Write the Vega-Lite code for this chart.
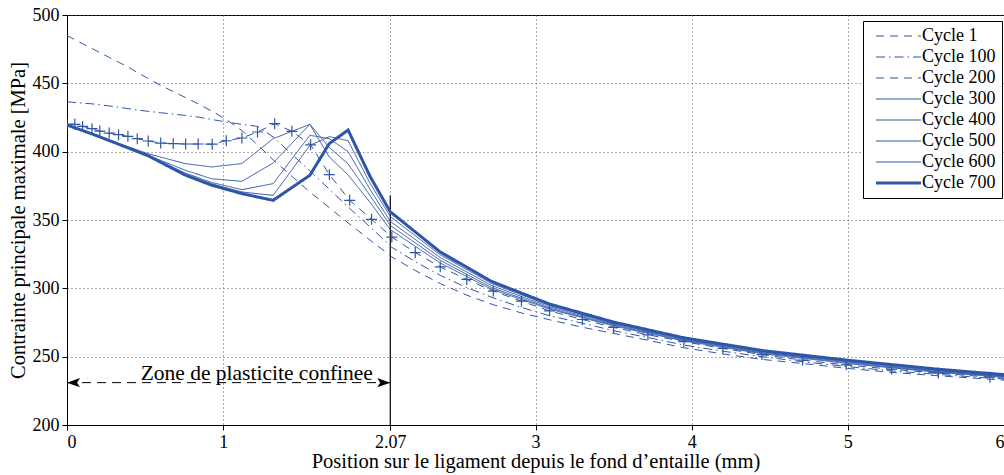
{
  "$schema": "https://vega.github.io/schema/vega-lite/v6.json",
  "width": 937,
  "height": 410,
  "autosize": {"type": "none"},
  "padding": {"left": 67, "top": 15, "right": 0, "bottom": 50},
  "background": "white",
  "config": {
    "font": "Liberation Serif, Times New Roman, serif",
    "view": {"stroke": "black", "strokeWidth": 1},
    "axis": {
      "domainColor": "black", "tickColor": "black", "labelColor": "black", "titleColor": "black",
      "labelFont": "Liberation Serif, Times New Roman, serif", "titleFont": "Liberation Serif, Times New Roman, serif",
      "labelFontSize": 18, "titleFontSize": 20.5, "titleFontWeight": "normal",
      "gridColor": "#555555", "gridDash": [1, 3], "gridOpacity": 1, "gridWidth": 1,
      "tickSize": 5, "labelPadding": 3
    },
    "legend": {
      "orient": "none", "legendX": 796, "legendY": 6,
      "strokeColor": "black", "fillColor": "white", "padding": 6,
      "labelFont": "Liberation Serif, Times New Roman, serif", "labelFontSize": 18, "labelColor": "black",
      "symbolStrokeColor": "#2E55A8",
      "rowPadding": 3, "title": null
    }
  },
  "datasets": {
    "curves": [
      {"c":"Cycle 1","x":0,"y":485},{"c":"Cycle 1","x":0.05,"y":482},{"c":"Cycle 1","x":0.10,"y":479},{"c":"Cycle 1","x":0.16,"y":475.5},{"c":"Cycle 1","x":0.21,"y":472.5},{"c":"Cycle 1","x":0.27,"y":469},{"c":"Cycle 1","x":0.33,"y":465.5},{"c":"Cycle 1","x":0.39,"y":462},{"c":"Cycle 1","x":0.45,"y":458},{"c":"Cycle 1","x":0.52,"y":453.5},{"c":"Cycle 1","x":0.60,"y":448.5},{"c":"Cycle 1","x":0.68,"y":444},{"c":"Cycle 1","x":0.76,"y":439.5},{"c":"Cycle 1","x":0.84,"y":435},{"c":"Cycle 1","x":0.93,"y":429.5},{"c":"Cycle 1","x":1.02,"y":423.5},{"c":"Cycle 1","x":1.12,"y":415.5},{"c":"Cycle 1","x":1.22,"y":405},{"c":"Cycle 1","x":1.33,"y":393},{"c":"Cycle 1","x":1.44,"y":382},{"c":"Cycle 1","x":1.56,"y":370},{"c":"Cycle 1","x":1.68,"y":359},{"c":"Cycle 1","x":1.81,"y":347},{"c":"Cycle 1","x":1.95,"y":334.5},{"c":"Cycle 1","x":2.08,"y":323},{"c":"Cycle 1","x":2.23,"y":313},{"c":"Cycle 1","x":2.39,"y":303.5},{"c":"Cycle 1","x":2.56,"y":295},{"c":"Cycle 1","x":2.73,"y":288},{"c":"Cycle 1","x":2.91,"y":282},{"c":"Cycle 1","x":3.09,"y":277},{"c":"Cycle 1","x":3.30,"y":271.5},{"c":"Cycle 1","x":3.50,"y":267},{"c":"Cycle 1","x":3.72,"y":262},{"c":"Cycle 1","x":3.95,"y":256.5},{"c":"Cycle 1","x":4.20,"y":252},{"c":"Cycle 1","x":4.45,"y":248},{"c":"Cycle 1","x":4.71,"y":245},{"c":"Cycle 1","x":4.99,"y":241.5},{"c":"Cycle 1","x":5.28,"y":238.5},{"c":"Cycle 1","x":5.58,"y":236},{"c":"Cycle 1","x":5.91,"y":233.5},{"c":"Cycle 1","x":6.25,"y":231},

      {"c":"Cycle 100","x":0,"y":436.5},{"c":"Cycle 100","x":0.05,"y":436},{"c":"Cycle 100","x":0.10,"y":435.5},{"c":"Cycle 100","x":0.16,"y":435},{"c":"Cycle 100","x":0.21,"y":434.3},{"c":"Cycle 100","x":0.27,"y":433.5},{"c":"Cycle 100","x":0.33,"y":432.5},{"c":"Cycle 100","x":0.39,"y":431.5},{"c":"Cycle 100","x":0.45,"y":430.5},{"c":"Cycle 100","x":0.52,"y":429.5},{"c":"Cycle 100","x":0.60,"y":428.5},{"c":"Cycle 100","x":0.68,"y":427.5},{"c":"Cycle 100","x":0.76,"y":426.5},{"c":"Cycle 100","x":0.84,"y":425.3},{"c":"Cycle 100","x":0.93,"y":423.5},{"c":"Cycle 100","x":1.02,"y":421.7},{"c":"Cycle 100","x":1.12,"y":420},{"c":"Cycle 100","x":1.22,"y":418.5},{"c":"Cycle 100","x":1.33,"y":410},{"c":"Cycle 100","x":1.44,"y":398},{"c":"Cycle 100","x":1.56,"y":385.5},{"c":"Cycle 100","x":1.68,"y":372.5},{"c":"Cycle 100","x":1.81,"y":358.5},{"c":"Cycle 100","x":1.95,"y":344},{"c":"Cycle 100","x":2.08,"y":330},{"c":"Cycle 100","x":2.23,"y":319.5},{"c":"Cycle 100","x":2.39,"y":309.5},{"c":"Cycle 100","x":2.56,"y":300.5},{"c":"Cycle 100","x":2.73,"y":293},{"c":"Cycle 100","x":2.91,"y":286},{"c":"Cycle 100","x":3.09,"y":280},{"c":"Cycle 100","x":3.30,"y":274.5},{"c":"Cycle 100","x":3.50,"y":269},{"c":"Cycle 100","x":3.72,"y":264},{"c":"Cycle 100","x":3.95,"y":258.5},{"c":"Cycle 100","x":4.20,"y":254},{"c":"Cycle 100","x":4.45,"y":250},{"c":"Cycle 100","x":4.71,"y":246.3},{"c":"Cycle 100","x":4.99,"y":242.8},{"c":"Cycle 100","x":5.28,"y":239.6},{"c":"Cycle 100","x":5.58,"y":237},{"c":"Cycle 100","x":5.91,"y":234.3},{"c":"Cycle 100","x":6.25,"y":231.8},

      {"c":"Cycle 200","x":0,"y":420},{"c":"Cycle 200","x":0.05,"y":420},{"c":"Cycle 200","x":0.10,"y":418.5},{"c":"Cycle 200","x":0.16,"y":416.8},{"c":"Cycle 200","x":0.21,"y":415.1},{"c":"Cycle 200","x":0.27,"y":413.6},{"c":"Cycle 200","x":0.33,"y":412.4},{"c":"Cycle 200","x":0.39,"y":411.2},{"c":"Cycle 200","x":0.45,"y":409.5},{"c":"Cycle 200","x":0.52,"y":407.8},{"c":"Cycle 200","x":0.60,"y":406.3},{"c":"Cycle 200","x":0.68,"y":405.9},{"c":"Cycle 200","x":0.76,"y":405.6},{"c":"Cycle 200","x":0.84,"y":405.6},{"c":"Cycle 200","x":0.93,"y":405.5},{"c":"Cycle 200","x":1.02,"y":408},{"c":"Cycle 200","x":1.12,"y":410},{"c":"Cycle 200","x":1.22,"y":414.4},{"c":"Cycle 200","x":1.33,"y":420.5},{"c":"Cycle 200","x":1.44,"y":414.9},{"c":"Cycle 200","x":1.56,"y":405},{"c":"Cycle 200","x":1.68,"y":383.2},{"c":"Cycle 200","x":1.81,"y":364.4},{"c":"Cycle 200","x":1.95,"y":350.5},{"c":"Cycle 200","x":2.08,"y":337.5},{"c":"Cycle 200","x":2.23,"y":326.2},{"c":"Cycle 200","x":2.39,"y":315.7},{"c":"Cycle 200","x":2.56,"y":306.5},{"c":"Cycle 200","x":2.73,"y":298},{"c":"Cycle 200","x":2.91,"y":290.6},{"c":"Cycle 200","x":3.09,"y":283.5},{"c":"Cycle 200","x":3.30,"y":277.2},{"c":"Cycle 200","x":3.50,"y":271.4},{"c":"Cycle 200","x":3.72,"y":266},{"c":"Cycle 200","x":3.95,"y":261},{"c":"Cycle 200","x":4.20,"y":256},{"c":"Cycle 200","x":4.45,"y":251.5},{"c":"Cycle 200","x":4.71,"y":247.5},{"c":"Cycle 200","x":4.99,"y":244},{"c":"Cycle 200","x":5.28,"y":240.8},{"c":"Cycle 200","x":5.58,"y":238},{"c":"Cycle 200","x":5.91,"y":235},{"c":"Cycle 200","x":6.25,"y":232.5},

      {"c":"Cycle 300","x":0,"y":419.5},{"c":"Cycle 300","x":0.16,"y":413.2},{"c":"Cycle 300","x":0.33,"y":406},{"c":"Cycle 300","x":0.52,"y":398.5},{"c":"Cycle 300","x":0.755,"y":391.3},{"c":"Cycle 300","x":0.925,"y":388.8},{"c":"Cycle 300","x":1.12,"y":391.3},{"c":"Cycle 300","x":1.32,"y":409.5},{"c":"Cycle 300","x":1.555,"y":420},{"c":"Cycle 300","x":1.68,"y":396},{"c":"Cycle 300","x":1.80,"y":383},{"c":"Cycle 300","x":1.94,"y":363},{"c":"Cycle 300","x":2.07,"y":343},{"c":"Cycle 300","x":2.39,"y":318.5},{"c":"Cycle 300","x":2.72,"y":299.3},{"c":"Cycle 300","x":3.09,"y":284.8},{"c":"Cycle 300","x":3.50,"y":272.5},{"c":"Cycle 300","x":3.95,"y":261.5},{"c":"Cycle 300","x":4.45,"y":252.2},{"c":"Cycle 300","x":4.99,"y":245.1},{"c":"Cycle 300","x":5.58,"y":238.5},{"c":"Cycle 300","x":6.25,"y":232.9},

      {"c":"Cycle 400","x":0,"y":419.5},{"c":"Cycle 400","x":0.16,"y":413},{"c":"Cycle 400","x":0.33,"y":405.5},{"c":"Cycle 400","x":0.52,"y":397.3},{"c":"Cycle 400","x":0.755,"y":386.5},{"c":"Cycle 400","x":0.925,"y":380.2},{"c":"Cycle 400","x":1.12,"y":378.3},{"c":"Cycle 400","x":1.32,"y":391.7},{"c":"Cycle 400","x":1.555,"y":420},{"c":"Cycle 400","x":1.68,"y":403},{"c":"Cycle 400","x":1.80,"y":391},{"c":"Cycle 400","x":1.94,"y":368},{"c":"Cycle 400","x":2.07,"y":346},{"c":"Cycle 400","x":2.39,"y":320.5},{"c":"Cycle 400","x":2.72,"y":300.5},{"c":"Cycle 400","x":3.09,"y":285.5},{"c":"Cycle 400","x":3.50,"y":273.1},{"c":"Cycle 400","x":3.95,"y":262},{"c":"Cycle 400","x":4.45,"y":252.8},{"c":"Cycle 400","x":4.99,"y":245.7},{"c":"Cycle 400","x":5.58,"y":239},{"c":"Cycle 400","x":6.25,"y":233.3},

      {"c":"Cycle 500","x":0,"y":419.5},{"c":"Cycle 500","x":0.16,"y":413},{"c":"Cycle 500","x":0.33,"y":405.5},{"c":"Cycle 500","x":0.52,"y":397},{"c":"Cycle 500","x":0.755,"y":384.5},{"c":"Cycle 500","x":0.925,"y":377.5},{"c":"Cycle 500","x":1.12,"y":372.2},{"c":"Cycle 500","x":1.32,"y":376.6},{"c":"Cycle 500","x":1.555,"y":412},{"c":"Cycle 500","x":1.68,"y":409.5},{"c":"Cycle 500","x":1.80,"y":400},{"c":"Cycle 500","x":1.94,"y":372.5},{"c":"Cycle 500","x":2.07,"y":349},{"c":"Cycle 500","x":2.39,"y":322.5},{"c":"Cycle 500","x":2.72,"y":302},{"c":"Cycle 500","x":3.09,"y":286.5},{"c":"Cycle 500","x":3.50,"y":273.8},{"c":"Cycle 500","x":3.95,"y":262.6},{"c":"Cycle 500","x":4.45,"y":253.4},{"c":"Cycle 500","x":4.99,"y":246.3},{"c":"Cycle 500","x":5.58,"y":239.6},{"c":"Cycle 500","x":6.25,"y":233.7},

      {"c":"Cycle 600","x":0,"y":419.5},{"c":"Cycle 600","x":0.16,"y":413},{"c":"Cycle 600","x":0.33,"y":405.5},{"c":"Cycle 600","x":0.52,"y":397},{"c":"Cycle 600","x":0.755,"y":383.5},{"c":"Cycle 600","x":0.925,"y":376.5},{"c":"Cycle 600","x":1.12,"y":370.5},{"c":"Cycle 600","x":1.32,"y":368},{"c":"Cycle 600","x":1.555,"y":404.6},{"c":"Cycle 600","x":1.68,"y":411},{"c":"Cycle 600","x":1.80,"y":408},{"c":"Cycle 600","x":1.94,"y":377},{"c":"Cycle 600","x":2.07,"y":352.5},{"c":"Cycle 600","x":2.39,"y":324.5},{"c":"Cycle 600","x":2.72,"y":303.5},{"c":"Cycle 600","x":3.09,"y":287.5},{"c":"Cycle 600","x":3.50,"y":274.5},{"c":"Cycle 600","x":3.95,"y":263.2},{"c":"Cycle 600","x":4.45,"y":254},{"c":"Cycle 600","x":4.99,"y":246.9},{"c":"Cycle 600","x":5.58,"y":240.2},{"c":"Cycle 600","x":6.25,"y":234.1},

      {"c":"Cycle 700","x":0,"y":419.5},{"c":"Cycle 700","x":0.16,"y":413},{"c":"Cycle 700","x":0.33,"y":405.5},{"c":"Cycle 700","x":0.52,"y":397},{"c":"Cycle 700","x":0.755,"y":383},{"c":"Cycle 700","x":0.925,"y":375.5},{"c":"Cycle 700","x":1.12,"y":369.3},{"c":"Cycle 700","x":1.32,"y":364.4},{"c":"Cycle 700","x":1.555,"y":382.7},{"c":"Cycle 700","x":1.68,"y":406},{"c":"Cycle 700","x":1.80,"y":415.8},{"c":"Cycle 700","x":1.94,"y":382},{"c":"Cycle 700","x":2.07,"y":356},{"c":"Cycle 700","x":2.39,"y":326.6},{"c":"Cycle 700","x":2.72,"y":305},{"c":"Cycle 700","x":3.09,"y":288.5},{"c":"Cycle 700","x":3.50,"y":275.3},{"c":"Cycle 700","x":3.95,"y":263.8},{"c":"Cycle 700","x":4.45,"y":254.5},{"c":"Cycle 700","x":4.99,"y":247.5},{"c":"Cycle 700","x":5.58,"y":240.8},{"c":"Cycle 700","x":6.25,"y":234.5}
    ],
    "vline": [{"x": 2.07, "y": 200, "y2": 368}],
    "arrow": [{"x": 0, "x2": 2.07, "y": 231}],
    "heads": [{"x": 0, "y": 231, "side": "left"}, {"x": 2.07, "y": 231, "side": "right"}],
    "label": [{"x": 1.215, "y": 233, "t": "Zone de plasticite confinee"}]
  },
  "encoding": {
    "x": {"field": "x", "type": "quantitative",
      "scale": {"domain": [0, 6], "nice": false, "zero": false},
      "axis": {"values": [0, 1, 2.07, 3, 4, 5, 6], "grid": true,
        "labelExpr": "datum.value > 2.05 && datum.value < 2.09 ? '2.07' : format(datum.value, 'd')",
        "labelFont": "Liberation Serif, Times New Roman, serif", "titleFont": "Liberation Serif, Times New Roman, serif",
        "title": "Position sur le ligament depuis le fond d’entaille (mm)", "titlePadding": 0}},
    "y": {"field": "y", "type": "quantitative",
      "scale": {"domain": [200, 500], "nice": false, "zero": false},
      "axis": {"values": [200, 250, 300, 350, 400, 450, 500], "format": "d", "grid": true,
        "labelFont": "Liberation Serif, Times New Roman, serif", "titleFont": "Liberation Serif, Times New Roman, serif",
        "title": "Contrainte principale maximale [MPa]", "titlePadding": 4}}
  },
  "layer": [
    {
      "data": {"name": "vline"},
      "mark": {"type": "rule", "color": "black", "strokeWidth": 1.2},
      "encoding": {"y2": {"field": "y2"}}
    },
    {
      "data": {"name": "arrow"},
      "mark": {"type": "rule", "color": "black", "strokeWidth": 1, "strokeDash": [9, 6]},
      "encoding": {"x2": {"field": "x2"}}
    },
    {
      "data": {"name": "heads"},
      "mark": {"type": "point", "filled": true, "color": "black", "opacity": 1, "size": 169, "strokeWidth": 0},
      "encoding": {
        "shape": {"field": "side", "type": "nominal", "legend": null,
          "scale": {"domain": ["left", "right"], "range": ["M0,0L2,-0.7L1.55,0L2,0.7Z", "M0,0L-2,-0.7L-1.55,0L-2,0.7Z"]}}
      }
    },
    {
      "data": {"name": "label"},
      "mark": {"type": "text", "font": "Liberation Serif, Times New Roman, serif", "fontSize": 21.5, "color": "black", "align": "center", "baseline": "alphabetic"},
      "encoding": {"text": {"field": "t"}}
    },
    {
      "data": {"name": "curves"},
      "mark": {"type": "line", "color": "#2E55A8", "clip": true},
      "encoding": {
        "detail": {"field": "c"},
        "strokeDash": {"field": "c", "type": "nominal",
          "scale": {"domain": ["Cycle 1", "Cycle 100", "Cycle 200", "Cycle 300", "Cycle 400", "Cycle 500", "Cycle 600", "Cycle 700"],
            "range": [[8, 6], [9, 4, 1.5, 4], [8, 6], [1, 0], [1, 0], [1, 0], [1, 0], [1, 0]]},
          "legend": {"symbolType": "M-0.4,0L8.6,0", "symbolSize": 100, "labelOffset": 35,
            "labelFont": "Liberation Serif, Times New Roman, serif", "labelFontSize": 18, "symbolStrokeColor": "#2E55A8", "symbolFillColor": "transparent"}},
        "strokeWidth": {"field": "c", "type": "nominal",
          "scale": {"type": "ordinal", "domain": ["Cycle 1", "Cycle 100", "Cycle 200", "Cycle 300", "Cycle 400", "Cycle 500", "Cycle 600", "Cycle 700"],
            "range": [1, 1, 1, 1, 1, 1, 1, 3]}}
      }
    },
    {
      "data": {"name": "curves"},
      "transform": [{"filter": "datum.c === 'Cycle 200'"}],
      "mark": {"type": "point", "shape": "M-1,0L1,0M0,-1L0,1", "filled": false, "color": "#2E55A8", "opacity": 1, "size": 120, "strokeWidth": 1.2, "clip": true}
    }
  ]
}
